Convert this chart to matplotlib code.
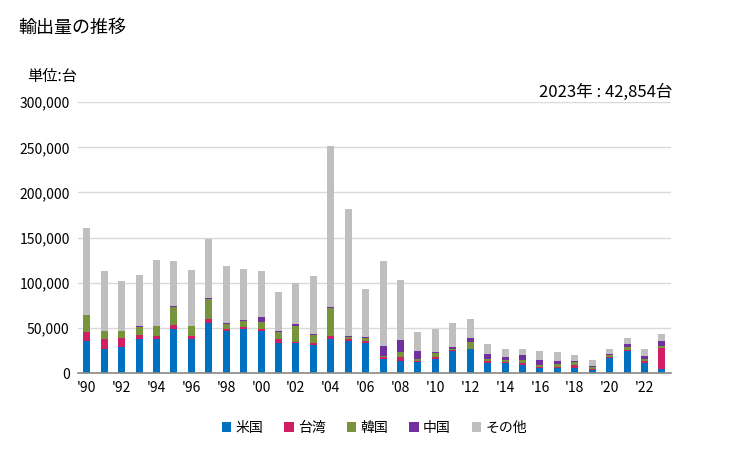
import matplotlib
matplotlib.use("Agg")
import matplotlib.pyplot as plt
import numpy as np

plt.rcParams['font.family'] = ['Noto Sans CJK JP', 'DejaVu Sans']

# --- データ（単位:千台、積み上げ上端から読み取り） ---
years = list(range(1990, 2024))
usa = [35.2, 26.3, 28.5, 37.4, 37.4, 49.3, 37.4, 55.9, 46.3, 48.5,
       46.3, 33.7, 33.0, 31.5, 37.4, 35.2, 33.7, 15.2, 13.5, 12.6,
       15.9, 24.1, 26.3, 11.5, 11.5, 8.9, 5.9, 5.9, 5.9, 3.7,
       17.0, 24.8, 11.5, 4.8]
taiwan = [10.7, 11.8, 10.8, 5.2, 4.1, 4.4, 3.3, 4.5, 3.0, 2.2,
          3.0, 3.7, 1.1, 1.5, 4.1, 2.2, 1.5, 2.2, 4.6, 0.5,
          2.2, 1.1, 0.7, 2.2, 1.1, 2.6, 0.5, 1.1, 3.4, 1.1,
          0.4, 1.1, 2.2, 23.3]
korea = [18.9, 8.9, 7.7, 8.9, 11.1, 18.9, 11.9, 21.1, 5.5, 7.4,
         7.7, 8.5, 18.5, 9.6, 30.0, 3.0, 4.1, 1.1, 5.6, 2.8,
         4.5, 1.8, 7.8, 2.2, 2.2, 3.3, 2.9, 3.4, 3.3, 2.2,
         3.0, 3.4, 2.2, 2.3]
china = [0.0, 0.0, 0.0, 1.1, 0.0, 1.1, 0.0, 1.1, 1.1, 1.2,
         5.6, 1.1, 2.2, 1.1, 1.1, 1.1, 1.1, 11.9, 13.3, 8.9,
         1.1, 2.3, 4.5, 5.6, 3.3, 5.6, 5.5, 3.3, 1.1, 1.1,
         1.1, 3.3, 3.4, 5.5]
other = [95.6, 65.6, 54.5, 55.5, 72.2, 50.0, 61.1, 65.5, 62.2, 55.5,
         50.0, 42.3, 44.5, 63.3, 178.9, 140.0, 52.2, 93.3, 65.6, 21.1,
         25.6, 26.6, 21.1, 11.1, 8.9, 6.6, 10.0, 10.0, 6.7, 6.7,
         5.5, 6.7, 7.7, 7.1]

series = [("米国", usa, "#0070c0"),
          ("台湾", taiwan, "#d01f62"),
          ("韓国", korea, "#77933c"),
          ("中国", china, "#7030a0"),
          ("その他", other, "#bfbfbf")]

fig = plt.figure(figsize=(7.29, 4.5), dpi=100)
ax = fig.add_axes([0.107, 0.171, 0.813, 0.602])

x = np.arange(len(years))
bottom = np.zeros(len(years))
for name, vals, color in series:
    v = np.array(vals) * 1000
    ax.bar(x, v, 0.4, bottom=bottom, color=color, label=name, zorder=3)
    bottom += v

ax.set_xlim(-0.5, len(years) - 0.5)
ax.set_ylim(0, 300000)
ax.set_yticks(range(0, 300001, 50000))
ax.set_yticklabels([f"{v:,}" for v in range(0, 300001, 50000)], fontsize=10)
ax.set_xticks(x[::2])
ax.set_xticklabels([f"'{str(y)[2:]}" for y in years[::2]], fontsize=10)
ax.tick_params(length=0, pad=6)
ax.grid(axis='y', color='#d9d9d9', linewidth=1, zorder=0)
for s in ['left', 'right', 'top']:
    ax.spines[s].set_visible(False)
ax.spines['bottom'].set_color('#898989')
ax.spines['bottom'].set_linewidth(1.2)
ax.spines['bottom'].set_zorder(4)

fig.text(0.025, 0.937, "輸出量の推移", fontsize=13, va='center')
fig.text(0.037, 0.83, "単位:台", fontsize=11, va='center')
fig.text(0.922, 0.795, "2023年 : 42,854台", fontsize=12, ha='right', va='center')

ax.legend(loc='upper center', bbox_to_anchor=(0.5, -0.13), ncol=5, frameon=False,
          fontsize=10, handlelength=0.7, handleheight=0.7, handletextpad=0.3,
          columnspacing=1.5)

fig.savefig("out.png", dpi=100)
